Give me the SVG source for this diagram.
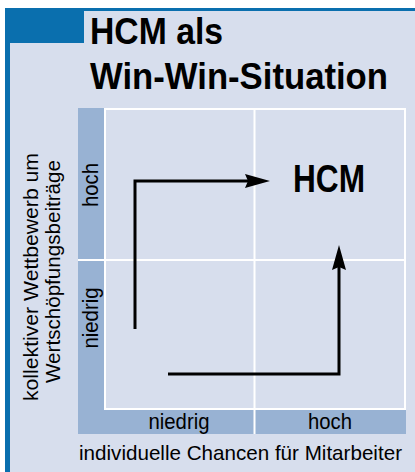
<svg xmlns="http://www.w3.org/2000/svg" width="415" height="472" viewBox="0 0 415 472">
  <defs>
    <style>
      .bg { fill: #d7deed; }
      .blue { fill: #0a6fae; }
      .band { fill: #98b2d3; }
      .grid { fill: none; stroke: #ffffff; stroke-width: 2; }
      .title { font-family: "Liberation Sans", Arial, sans-serif; font-weight: bold; font-size: 37px; fill: #000000; }
      .lbl { font-family: "Liberation Sans", Arial, sans-serif; font-size: 22px; fill: #000000; }
      .axis { font-size: 20.6px; }
      .big { font-family: "Liberation Sans", Arial, sans-serif; font-weight: bold; font-size: 38px; fill: #000000; }
      .arrow { fill: none; stroke: #000000; stroke-width: 3; marker-end: url(#head); }
    </style>
    <marker id="head" markerUnits="userSpaceOnUse" viewBox="0 0 25 14" markerWidth="25" markerHeight="14" refX="10" refY="7" orient="auto">
      <path d="M0,0 L25,7 L0,14 L3,7 Z" fill="#000000"/>
    </marker>
  </defs>

  <!-- frame -->
  <rect x="0" y="0" width="415" height="472" fill="#ffffff"/>
  <rect class="bg" x="10" y="11" width="405" height="461"/>
  <rect class="blue" x="5" y="8" width="410" height="3"/>
  <rect class="blue" x="5" y="8" width="5" height="464"/>
  <rect class="blue" x="5" y="8" width="79" height="35"/>

  <!-- title -->
  <g id="title">
    <text class="title" x="90" y="43.5" textLength="133" lengthAdjust="spacingAndGlyphs">HCM als</text>
    <text class="title" x="90" y="89" textLength="298" lengthAdjust="spacingAndGlyphs">Win-Win-Situation</text>
  </g>

  <!-- axis bands -->
  <g id="axes">
    <rect class="band" x="78" y="108" width="26" height="326"/>
    <rect class="band" x="78" y="409" width="328" height="25"/>
  </g>

  <!-- matrix grid -->
  <g id="matrix">
    <rect class="grid" x="105" y="109" width="300" height="300"/>
    <line class="grid" x1="254.5" y1="108" x2="254.5" y2="434"/>
    <line class="grid" x1="78" y1="260" x2="405" y2="260"/>
  </g>

  <!-- axis labels -->
  <g id="y-axis-labels">
    <text class="lbl" text-anchor="middle" textLength="44" lengthAdjust="spacingAndGlyphs" transform="translate(97.5,185) rotate(-90)">hoch</text>
    <text class="lbl" text-anchor="middle" textLength="61" lengthAdjust="spacingAndGlyphs" transform="translate(97.5,318) rotate(-90)">niedrig</text>
  </g>
  <g id="x-axis-labels">
    <text class="lbl" x="179" y="428.5" text-anchor="middle" textLength="61" lengthAdjust="spacingAndGlyphs">niedrig</text>
    <text class="lbl" x="330" y="428.5" text-anchor="middle" textLength="44" lengthAdjust="spacingAndGlyphs">hoch</text>
  </g>
  <g id="y-axis-title">
    <text class="lbl axis" text-anchor="middle" textLength="248" lengthAdjust="spacingAndGlyphs" transform="translate(38,277) rotate(-90)">kollektiver Wettbewerb um</text>
    <text class="lbl axis" text-anchor="middle" textLength="223" lengthAdjust="spacingAndGlyphs" transform="translate(60,271.5) rotate(-90)">Wertschöpfungsbeiträge</text>
  </g>
  <g id="x-axis-title">
    <text class="lbl axis" x="79" y="460" textLength="323" lengthAdjust="spacingAndGlyphs">individuelle Chancen für Mitarbeiter</text>
  </g>

  <!-- HCM node -->
  <g id="hcm">
    <text class="big" x="293" y="192" textLength="72" lengthAdjust="spacingAndGlyphs">HCM</text>
  </g>

  <!-- connectors -->
  <g id="connectors">
    <path class="arrow" d="M135,329 V181 H255"/>
    <path class="arrow" d="M168,374 H339 V260"/>
  </g>
</svg>
